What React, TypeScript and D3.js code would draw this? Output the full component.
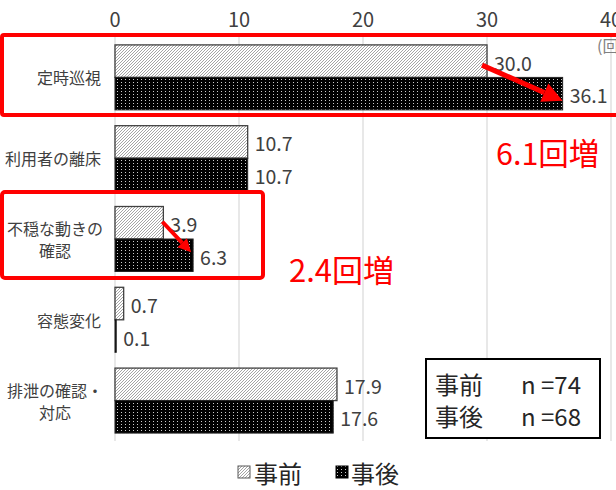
import React from "react";
import * as d3 from "d3";

const categories = ["定時巡視", "利用者の離床", "不穏な動きの\n確認", "容態変化", "排泄の確認・\n対応"];
const seriesNames = ["事前", "事後"];
const preValues = [30.0, 10.7, 3.9, 0.7, 17.9];
const postValues = [36.1, 10.7, 6.3, 0.1, 17.6];
const xTicks = [0, 10, 20, 30, 40];
const sampleSizes = ["n =74", "n =68"];
const increases = [
  { idx: 0, label: "6.1回増" },
  { idx: 2, label: "2.4回増" },
];

const W = 616;
const H = 490;
const FONT = "'Noto Sans CJK JP', 'Noto Sans', sans-serif";
const TXT = "#404040";

export default function App() {
  const x = d3.scaleLinear().domain([0, 40]).range([115, 611]);
  const y0 = d3.scaleBand<string>().domain(categories).range([37, 441]).padding(0);
  const y1 = d3
    .scaleBand<string>()
    .domain(seriesNames)
    .range([0, y0.bandwidth()])
    .paddingInner(0)
    .paddingOuter(0.243);
  const bh = y1.bandwidth();

  const preC = (i: number) => (y0(categories[i]) as number) + (y1("事前") as number) + bh / 2;
  const postC = (i: number) => (y0(categories[i]) as number) + (y1("事後") as number) + bh / 2;

  const arrow = (x1: number, yA: number, x2: number, yB: number, sw: number, head: number, key: string) => {
    const ang = Math.atan2(yB - yA, x2 - x1);
    const bx = x2 - head * Math.cos(ang);
    const by = yB - head * Math.sin(ang);
    const px = -Math.sin(ang) * head * 0.5;
    const py = Math.cos(ang) * head * 0.5;
    return (
      <g key={key}>
        <line x1={x1} y1={yA} x2={bx} y2={by} stroke="#ff0000" strokeWidth={sw} />
        <path d={`M${x2},${yB}L${bx + px},${by + py}L${bx - px},${by - py}Z`} fill="#ff0000" />
      </g>
    );
  };

  return (
    <svg
      width={W}
      height={H}
      style={{ position: "absolute", left: 0, top: 0, background: "#fff" }}
      fontFamily={FONT}
    >
      <defs>
        <pattern id="hatch" patternUnits="userSpaceOnUse" width="3" height="3">
          <rect width="3" height="3" fill="#fff" />
          <path d="M-1,1 l2,-2 M0,3 l3,-3 M2,4 l2,-2" stroke="#9a9a9a" strokeWidth="0.9" />
        </pattern>
        <pattern id="dots" patternUnits="userSpaceOnUse" width="4" height="3">
          <rect width="4" height="3" fill="#000" />
          <rect x="1" y="1" width="1" height="1" fill="#fff" opacity="0.8" />
        </pattern>
      </defs>
      <rect width={W} height={H} fill="#fff" />

      {/* gridlines */}
      {xTicks.map((t) => (
        <line key={t} x1={x(t)} x2={x(t)} y1={37} y2={441} stroke="#d9d9d9" strokeWidth={1.2} />
      ))}
      {/* tick labels */}
      {xTicks.map((t) => (
        <text key={"t" + t} x={x(t)} y={18} textAnchor="middle" dominantBaseline="central" fontSize={20} fill={TXT}>
          {t}
        </text>
      ))}
      <text x={597} y={45} fontSize={16} fill="#808080" dominantBaseline="central">
        (回)
      </text>

      {/* bars */}
      {categories.map((c, i) => {
        const top = y0(c) as number;
        return (
          <g key={c}>
            <rect
              x={x(0)}
              y={top + (y1("事前") as number)}
              width={x(preValues[i]) - x(0)}
              height={bh}
              fill="url(#hatch)"
              stroke="#404040"
              strokeWidth={1.3}
            />
            <rect
              x={x(0)}
              y={top + (y1("事後") as number)}
              width={x(postValues[i]) - x(0)}
              height={bh}
              fill="url(#dots)"
              stroke="#262626"
              strokeWidth={1}
            />
            <text x={x(preValues[i]) + 7} y={preC(i) + 1} fontSize={19.5} fill={TXT} dominantBaseline="central">
              {preValues[i].toFixed(1)}
            </text>
            <text x={x(postValues[i]) + 7} y={postC(i) + 1} fontSize={19.5} fill={TXT} dominantBaseline="central">
              {postValues[i].toFixed(1)}
            </text>
          </g>
        );
      })}

      {/* category labels */}
      {categories.map((c) => {
        const lines = c.split("\n");
        const cy = (y0(c) as number) + y0.bandwidth() / 2;
        if (lines.length === 1) {
          return (
            <text key={c} x={101} y={cy} textAnchor="end" dominantBaseline="central" fontSize={16} fill={TXT}>
              {c}
            </text>
          );
        }
        const lh = 22;
        return (
          <g key={c}>
            {lines.map((l, k) => (
              <text
                key={k}
                x={55}
                y={cy + (k - (lines.length - 1) / 2) * lh}
                textAnchor="middle"
                dominantBaseline="central"
                fontSize={16}
                fill={TXT}
              >
                {l}
              </text>
            ))}
          </g>
        );
      })}

      {/* red highlight boxes */}
      <rect x={2} y={35} width={640} height={80} fill="none" stroke="#ff0000" strokeWidth={4} rx={2} />
      <rect x={2} y={192} width={261} height={86} fill="none" stroke="#ff0000" strokeWidth={4} rx={3} />

      {/* arrows */}
      {arrow(x(preValues[0]) - 5, preC(0) + 4, x(postValues[0]), postC(0) + 7, 5, 20, "a0")}
      {arrow(x(preValues[2]) - 1, preC(2) - 1, x(postValues[2]) - 2, postC(2) - 3, 4, 13, "a2")}

      {/* increase labels */}
      <text x={496} y={152} fontSize={30.5} fill="#ff0000" dominantBaseline="central">
        {increases[0].label}
      </text>
      <text x={289} y={268} fontSize={31} fill="#ff0000" dominantBaseline="central">
        {increases[1].label}
      </text>

      {/* sample size box */}
      <rect x={426} y={359} width={174} height={79} fill="#fff" stroke="#000" strokeWidth={2} />
      {seriesNames.map((s, k) => (
        <g key={s}>
          <text x={435} y={383 + k * 32} fontSize={24} fill="#262626" dominantBaseline="central">
            {s}
          </text>
          <text x={521} y={383 + k * 32} fontSize={24} fill="#262626" dominantBaseline="central">
            {sampleSizes[k]}
          </text>
        </g>
      ))}

      {/* legend */}
      <rect x={238} y={466} width={12} height={12} fill="url(#hatch)" stroke="#595959" strokeWidth={1} />
      <text x={254} y={472} fontSize={24} fill="#262626" dominantBaseline="central">
        {seriesNames[0]}
      </text>
      <rect x={336} y={466} width={12} height={12} fill="url(#dots)" stroke="#000" strokeWidth={1} />
      <text x={351} y={472} fontSize={24} fill="#262626" dominantBaseline="central">
        {seriesNames[1]}
      </text>
    </svg>
  );
}
